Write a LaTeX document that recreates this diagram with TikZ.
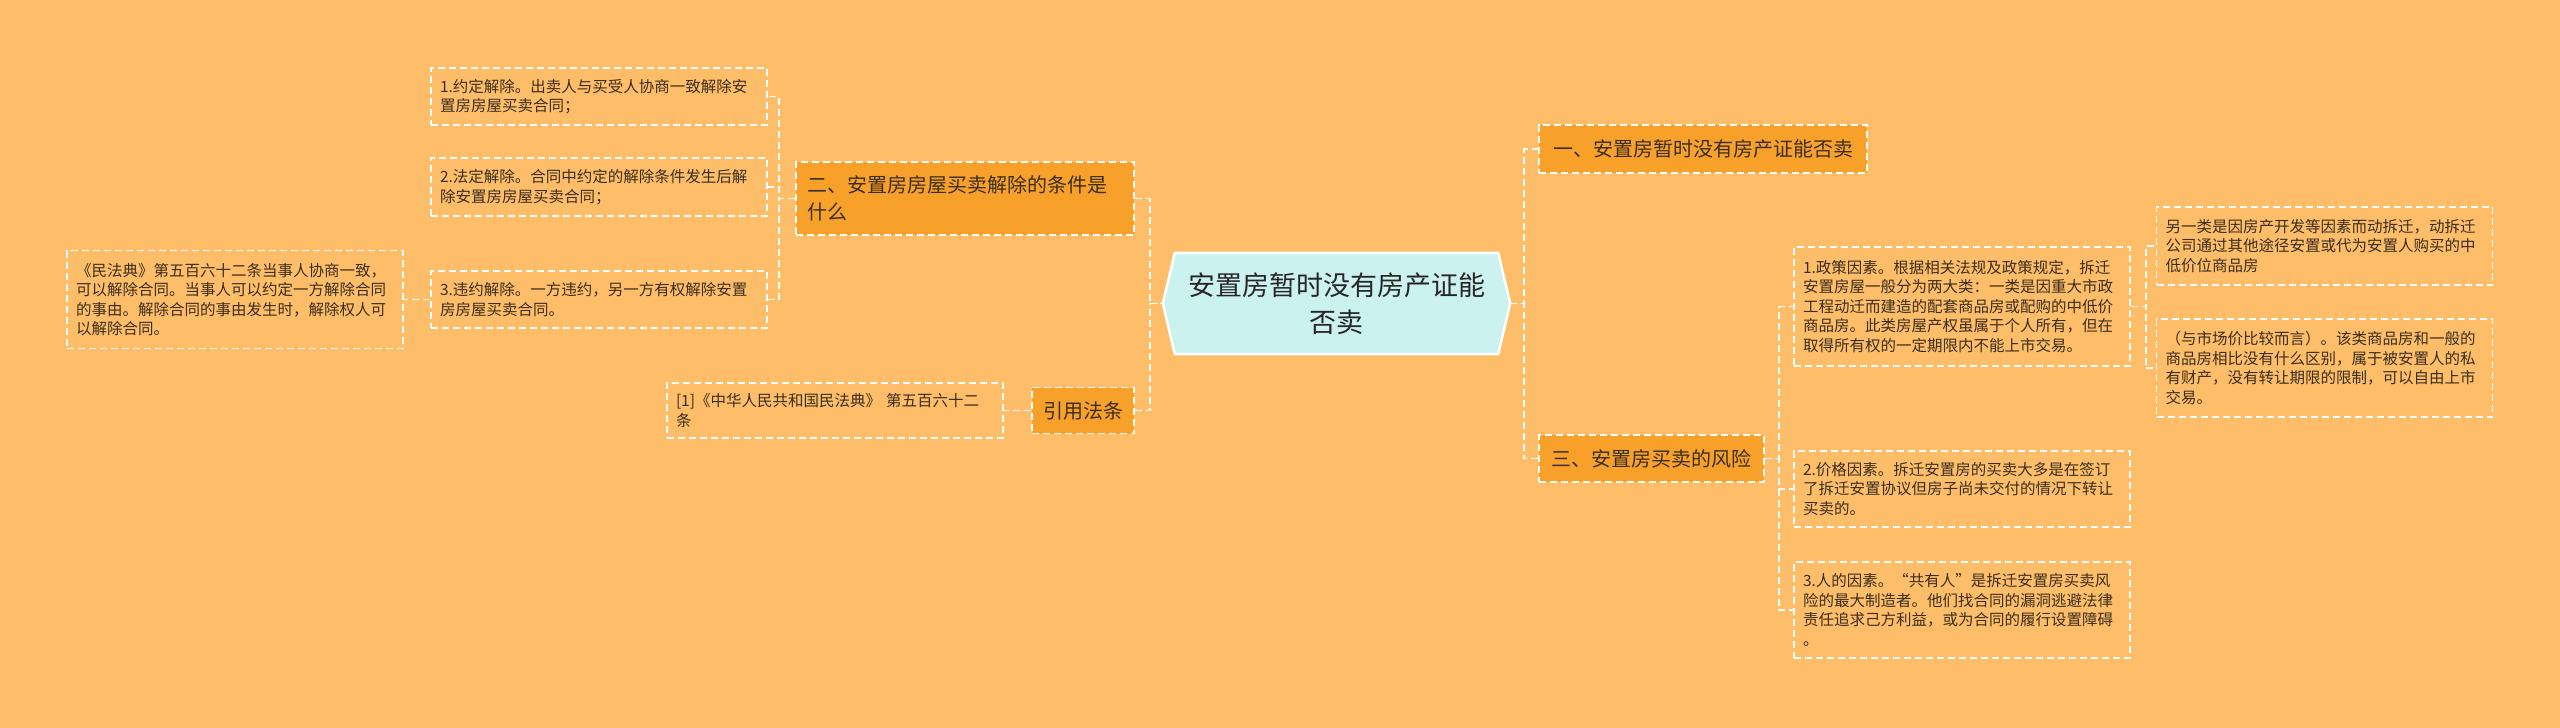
\documentclass[tikz,border=0pt]{standalone}
\usepackage{fontspec}
\setmainfont{Noto Sans CJK SC}
\usetikzlibrary{backgrounds, calc}
\definecolor{pagebg}{HTML}{FEBE69}
\definecolor{topicfill}{HTML}{F8A12A}
\definecolor{rootfill}{HTML}{CCF2F0}
\definecolor{inktext}{HTML}{3B2E1E}
\definecolor{roottext}{HTML}{262626}

\begin{document}
\begin{tikzpicture}[x=1pt, y=-1pt,
    link/.style={draw=white, line width=1.8pt, dash pattern=on 7pt off 4pt},
    topic/.style={fill=topicfill, draw=white, line width=1.3pt, dash pattern=on 7pt off 4pt,
        text=inktext, font=\fontsize{20}{27}\selectfont, inner xsep=11pt, inner ysep=0pt},
    leaf/.style={draw=white, line width=1.3pt, dash pattern=on 7pt off 4pt, text=inktext,
        font=\fontsize{15.5}{19.5}\selectfont, text width=318pt, inner xsep=9pt,
        inner ysep=0pt, align=left},
    rootbox/.style={text=roottext, font=\fontsize{27}{37}\selectfont, align=center,
        minimum width=347pt, minimum height=101pt, inner sep=0pt}]
    \useasboundingbox (0,0) rectangle (2560,728);
    % Centre
    \node[rootbox] (root) at (1336.5,303.5) {安置房暂时没有房产证能\\否卖};
    % Left branch: 二
    \node[topic, text width=316pt, align=left, minimum height=73pt] (jiechu) at (965,198.5)
         {二、安置房房屋买卖解除的条件是\\什么};
    \node[leaf, minimum height=57pt] (yueding) at (599,96.5)
         {1.约定解除。出卖人与买受人协商一致解除安\\置房房屋买卖合同；};
    \node[leaf, minimum height=58pt] (fading) at (599,187)
         {2.法定解除。合同中约定的解除条件发生后解\\除安置房房屋买卖合同；};
    \node[leaf, minimum height=57pt] (weiyue) at (599,299.5)
         {3.违约解除。一方违约，另一方有权解除安置\\房房屋买卖合同。};
    \node[leaf, minimum height=98pt] (minfadian) at (235,299.5)
         {《民法典》第五百六十二条当事人协商一致，\\可以解除合同。当事人可以约定一方解除合同\\的事由。解除合同的事由发生时，解除权人可\\以解除合同。};
    % Left branch: 引用法条
    \node[topic, minimum width=102pt, minimum height=46pt] (yinyong) at (1083,410.5) {引用法条};
    \node[leaf, minimum height=55pt] (fatiao) at (835,410.5)
         {[1]《中华人民共和国民法典》 第五百六十二\\条};
    % Right branch: 一
    \node[topic, minimum width=328pt, minimum height=48pt] (zanshi) at (1703,149)
         {一、安置房暂时没有房产证能否卖};
    % Right branch: 三
    \node[topic, minimum width=225pt, minimum height=47pt] (fengxian) at (1651.5,458.5)
         {三、安置房买卖的风险};
    \node[leaf, minimum height=119pt] (zhengce) at (1962,306.5)
         {1.政策因素。根据相关法规及政策规定，拆迁\\安置房屋一般分为两大类：一类是因重大市政\\工程动迁而建造的配套商品房或配购的中低价\\商品房。此类房屋产权虽属于个人所有，但在\\取得所有权的一定期限内不能上市交易。};
    \node[leaf, minimum height=78pt] (lingyi) at (2324.5,246)
         {另一类是因房产开发等因素而动拆迁，动拆迁\\公司通过其他途径安置或代为安置人购买的中\\低价位商品房};
    \node[leaf, minimum height=98pt] (shichang) at (2324.5,368)
         {（与市场价比较而言）。该类商品房和一般的\\商品房相比没有什么区别，属于被安置人的私\\有财产，没有转让期限的限制，可以自由上市\\交易。};
    \node[leaf, minimum height=76pt] (jiage) at (1962,489)
         {2.价格因素。拆迁安置房的买卖大多是在签订\\了拆迁安置协议但房子尚未交付的情况下转让\\买卖的。};
    \node[leaf, minimum height=96pt] (renyin) at (1962,610)
         {3.人的因素。“共有人”是拆迁安置房买卖风\\险的最大制造者。他们找合同的漏洞逃避法律\\责任追求己方利益，或为合同的履行设置障碍\\。};
    % Links
    \draw[link] (jiechu.east) -- ++(15,0) |- (root.west);
    \draw[link] (yinyong.east) -- ++(15,0) |- (root.west);
    \draw[link] (jiechu.west) -- ++(-16,0) |- (yueding.east);
    \draw[link] (jiechu.west) -- ++(-16,0) |- (fading.east);
    \draw[link] (jiechu.west) -- ++(-16,0) |- (weiyue.east);
    \draw[link] (weiyue.west) -- (minfadian.east);
    \draw[link] (yinyong.west) -- (fatiao.east);
    \draw[link] (root.east) -- ++(14,0) |- (zanshi.west);
    \draw[link] (root.east) -- ++(14,0) |- (fengxian.west);
    \draw[link] (fengxian.east) -- ++(14,0) |- (zhengce.west);
    \draw[link] (fengxian.east) -- ++(14,0) |- (jiage.west);
    \draw[link] (fengxian.east) -- ++(14,0) |- (renyin.west);
    \draw[link] (zhengce.east) -- ++(15,0) |- (lingyi.west);
    \draw[link] (zhengce.east) -- ++(15,0) |- (shichang.west);
    % Page and centre frame
    \begin{scope}[on background layer]
        \fill[pagebg] (0,0) rectangle (2560,728);
        \filldraw[fill=rootfill, draw=white, line width=2.5pt, line join=round]
            (root.west) -- ([xshift=12pt]root.north west) -- ([xshift=-12pt]root.north east)
            -- (root.east) -- ([xshift=-12pt]root.south east) -- ([xshift=12pt]root.south west)
            -- cycle;
    \end{scope}
\end{tikzpicture}
\end{document}
